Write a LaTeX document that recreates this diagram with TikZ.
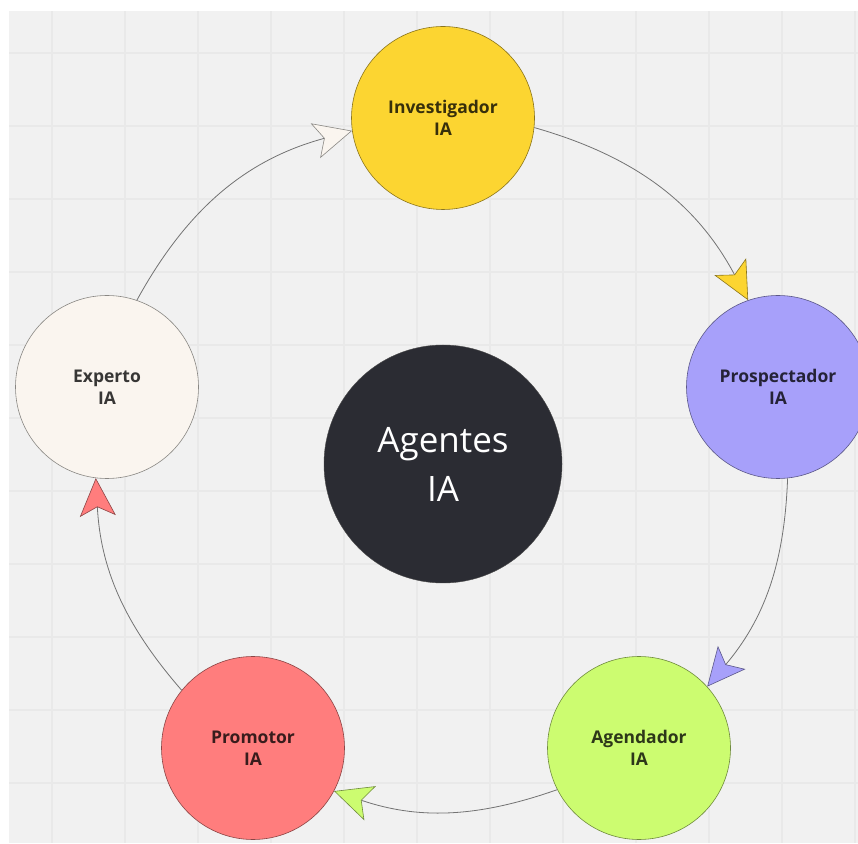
\documentclass[tikz,border=0pt]{standalone}
\usepackage{fontspec}
\setmainfont{Open Sans}
\usetikzlibrary{arrows.meta}

\definecolor{invcol}{HTML}{FCD531}
\definecolor{procol}{HTML}{A7A0FA}
\definecolor{agecol}{HTML}{CCFC70}
\definecolor{prmcol}{HTML}{FF7D7D}
\definecolor{expcol}{HTML}{FAF5EF}
\definecolor{corecol}{HTML}{2B2C33}
\definecolor{bgcol}{HTML}{F1F1F1}
\definecolor{gridcol}{HTML}{E9E9E9}

\newcommand{\agent}[4]{
	\node [agent=#2] (#1) at (#3) {#4\\IA};
}
\newcommand{\flow}[4]{
	\draw [flow=#1] (#2) to[bend left=#4] (#3);
}

\begin{document}
\begin{tikzpicture}
	[x=1pt, y=1pt,
	agent/.style={circle, draw=#1!55!black, fill=#1, line width=0.6pt,
		minimum size=183pt, inner sep=0pt, align=center, text=#1!22!black,
		font=\fontsize{17.5}{22}\selectfont\bfseries},
	flow/.style={draw=black!55, line width=0.8pt,
		-{Stealth[length=38pt, width=36pt, inset=9pt, line width=0.6pt,
			color=#1!55!black, fill=#1]}}]
	\useasboundingbox (0,0) rectangle (858,843);
	\fill [white] (0,0) rectangle (858,843);
	\fill [bgcol] (9,0) rectangle (858,832);
	% \draw [help lines] (0,0) grid (858,843);
	\foreach \k in {0,...,11}{
		\draw [gridcol, line width=1.3pt] (52+\k*73,0) -- (52+\k*73,832);
		\draw [gridcol, line width=1.3pt] (9,790-\k*73) -- (858,790-\k*73);
	}
	% centre
	\node [circle, draw=black!70, fill=corecol, minimum size=238pt, inner sep=0pt,
		align=center, text=white, font=\fontsize{35}{49}\selectfont] (core)
		at (443,379) {Agentes\\IA};
	% ring
	\agent{inv}{invcol}{443,725}{Investigador}
	\agent{pro}{procol}{778,456}{Prospectador}
	\agent{age}{agecol}{639,95}{Agendador}
	\agent{prm}{prmcol}{253,95}{Promotor}
	\agent{exp}{expcol}{107,456}{Experto}
	% arrows
	\flow{invcol}{inv.-6}{pro.109}{23}
	\flow{procol}{pro.-84}{age.42}{19}
	\flow{agecol}{age.-153}{prm.-28}{19}
	\flow{prmcol}{prm.141}{exp.-97}{19}
	\flow{expcol}{exp.71}{inv.-172}{23}
\end{tikzpicture}
\end{document}
